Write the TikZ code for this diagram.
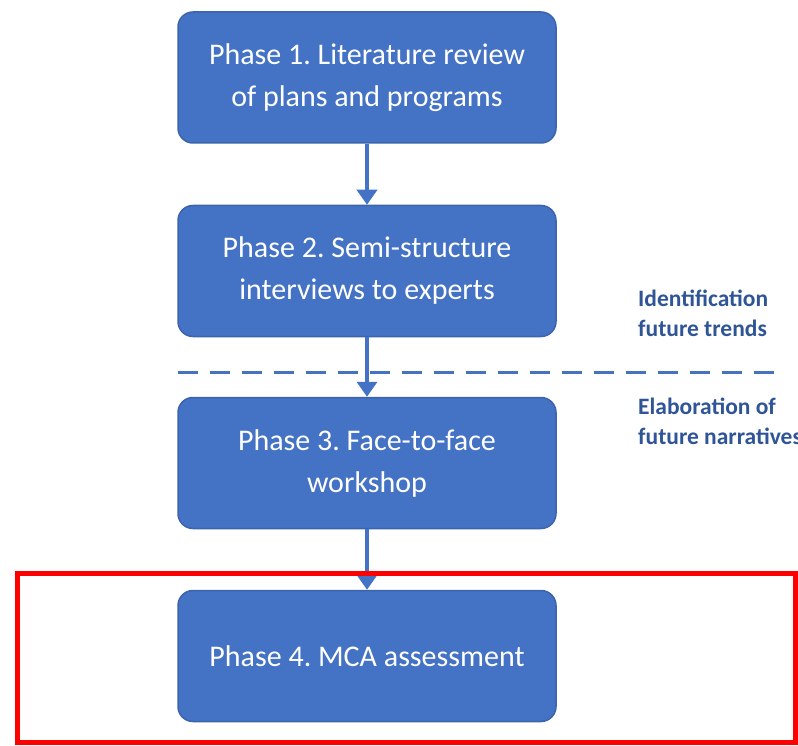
\documentclass[tikz,border=0pt]{standalone}
\usepackage{fontspec}
\setmainfont{Carlito}
\usetikzlibrary{arrows.meta}
\definecolor{boxblue}{HTML}{4472C4}
\definecolor{boxedge}{HTML}{3B64AD}
\definecolor{labelblue}{HTML}{2F5597}
\frenchspacing
\tikzset{
  phasebox/.style={draw=boxedge, line width=1.5pt, fill=boxblue, rounded corners=15pt,
    minimum width=378pt, minimum height=131pt, align=center, text=white,
    font=\fontsize{30}{42}\selectfont, inner sep=0pt},
  flowarrow/.style={draw=boxblue, line width=4pt, -{Triangle[width=20pt,length=15pt]}},
  sidelabel/.style={anchor=west, align=left, text=labelblue, inner sep=0pt,
    font=\fontsize{23.5}{30}\selectfont\bfseries},
  divider/.style={draw=boxblue, line width=3pt, dash pattern=on 20pt off 12pt},
  highlight/.style={draw=red, line width=5pt}
}
\begin{document}
\begin{tikzpicture}[x=1pt,y=1pt]
\useasboundingbox (0,0) rectangle (798,-746);
\node[phasebox] (p1) at (367,-77.5) {Phase 1. Literature review\\of plans and programs};
\node[phasebox] (p2) at (367,-271) {Phase 2. Semi-structure\\interviews to experts};
\node[phasebox] (p3) at (367,-463) {Phase 3. Face-to-face\\workshop};
\node[phasebox] (p4) at (367,-656) {Phase 4. MCA assessment};
\draw[flowarrow] (p1.south) -- (p2.north);
\draw[flowarrow] (p2.south) -- (p3.north);
\draw[flowarrow] (p3.south) -- (p4.north);
\coordinate (dl) at (178,-372);
\coordinate (dr) at (780,-372);
\draw[divider] (dl) -- (dr);
\node[sidelabel] (l1) at (638,-313) {Identification\\future trends};
\node[sidelabel] (l2) at (638,-421) {Elaboration of\\future narratives};
\draw[highlight] (17.5,-573.5) rectangle (795.5,-742.5);
\end{tikzpicture}
\end{document}
